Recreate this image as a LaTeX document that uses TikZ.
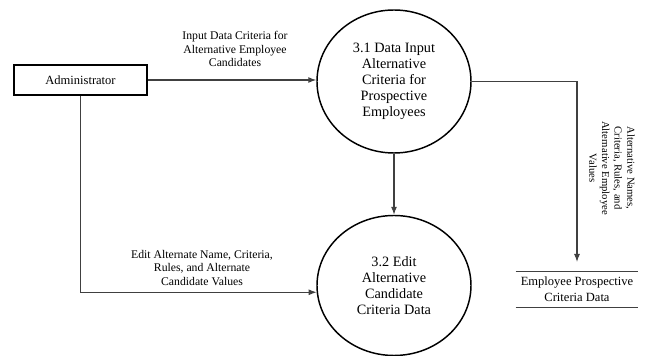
\documentclass[tikz,border=0pt]{standalone}
\usepackage{fontspec}
\setmainfont{Liberation Serif}
\usetikzlibrary{shapes.geometric,arrows.meta,calc}
\begin{document}
\begin{tikzpicture}[x=0.75pt,y=-0.75pt,
  proc/.style={draw,ellipse,line width=1.1pt,inner sep=0pt,minimum width=154*0.75pt,align=center,font=\fontsize{10.7pt}{12pt}\selectfont},
  ent/.style={draw,line width=1.1pt,minimum width=133*0.75pt,minimum height=30*0.75pt,inner sep=0pt,font=\fontsize{9.4pt}{11pt}\selectfont},
  flow/.style={draw=black!75,line width=0.8pt,-{Latex[length=6pt,width=4.5pt]}},
  lbl/.style={align=center,inner sep=0pt,font=\fontsize{8.8pt}{10.3pt}\selectfont},
  storetxt/.style={align=center,inner sep=0pt,minimum width=122*0.75pt,minimum height=35*0.75pt,font=\fontsize{9.4pt}{12pt}\selectfont},
  storeline/.style={draw=black!75,line width=0.8pt}]
\useasboundingbox (0,0) rectangle (651,356);
\node[ent] (admin) at (80.5,80) {Administrator};
\node[proc,minimum height=143*0.75pt] (c1) at (394,81.5) {3.1 Data Input\\Alternative\\Criteria for\\Prospective\\Employees};
\node[proc,minimum height=140*0.75pt] (c2) at (394,285.5) {3.2 Edit\\Alternative\\Candidate\\Criteria Data};
\node[storetxt] (store) at (577,289.5) {Employee Prospective\\Criteria Data};
\draw[storeline] (store.north west) -- (store.north east);
\draw[storeline] (store.south west) -- (store.south east);
\coordinate (storein) at (577,262);
\node[lbl] (l1) at (235,49) {Input Data Criteria for\\Alternative Employee\\Candidates};
\node[lbl] (l2) at (202,268) {Edit Alternate Name, Criteria,\\Rules, and Alternate\\Candidate Values};
\node[lbl,rotate=-90,font=\fontsize{8pt}{9.5pt}\selectfont] (l3) at (612,168) {Alternative Names,\\Criteria, Rules, and\\Alternative Employee\\Values};
\draw[flow] (admin.east) -- (admin.east -| c1.west);
\draw[flow] (c1.south) -- (c2.north);
\draw[flow] (admin.south) |- (c2.185);
\draw[flow] (c1.east) -| (storein);
\end{tikzpicture}
\end{document}
